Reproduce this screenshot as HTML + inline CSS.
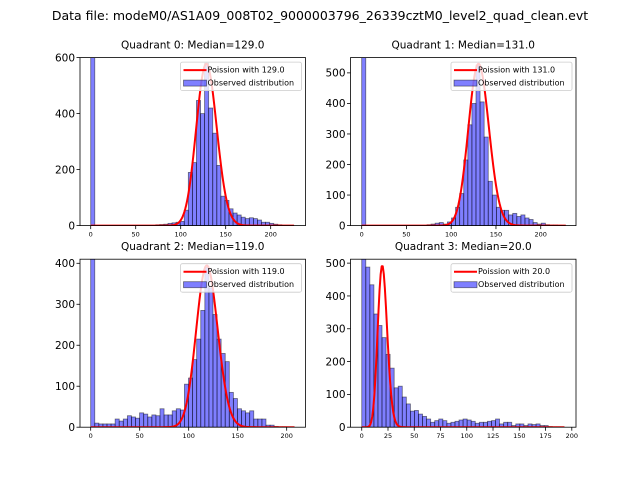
<!DOCTYPE html>
<html><head><meta charset="utf-8"><style>
html,body{margin:0;padding:0;background:#fff;}
svg{display:block;font-family:"DejaVu Sans","Liberation Sans",sans-serif;}
</style></head><body>
<svg id="fig" width="640" height="480" viewBox="0 0 640 480" xmlns="http://www.w3.org/2000/svg">
<rect width="640" height="480" fill="#fff"/>
<text x="320" y="20" font-size="12.5" text-anchor="middle">Data file: modeM0/AS1A09_008T02_9000003796_26339cztM0_level2_quad_clean.evt</text>
</svg>
<script>
const q0Counts=[620,0,0,0,0,0,0,0,0,0,0,0,0,0,0,0,3,4,5,8,10,12,15,55,190,225,447,400,580,420,330,215,105,90,60,45,38,30,25,28,25,20,12,12,8,5,3,1,1,0];
const q1Counts=[600,0,0,0,0,0,0,0,0,0,0,0,0,0,0,0,3,5,8,10,5,12,25,60,105,215,330,400,525,405,290,145,100,60,50,50,35,40,30,35,25,20,10,5,8,3,2,2,1,0];
const q2Counts=[450,10,8,8,8,8,20,15,20,28,25,22,35,32,25,30,28,45,30,30,40,45,42,105,120,165,215,285,390,340,275,215,180,160,85,70,45,40,35,40,20,20,20,5,5,2,1,1,0,0];
const q3Counts=[540,488,434,345,310,273,222,180,120,125,92,71,49,51,40,33,25,15,20,25,20,12,15,18,22,25,22,18,12,15,15,18,20,25,10,15,15,5,10,10,5,10,8,10,5,5,2,1,1,0];
const lambdas=[129,131,119,20];
const medianLabels=["129.0","131.0","119.0","20.0"];
const amplitudes=[16460,15200,10800,5520];
const binWidths=[4.52,4.56,4.16,3.86];
const xTicks01=[0,50,100,150,200];
const xTicks3=[0,25,50,75,100,125,150,175,200];
const yTicks0=[0,200,400,600];
const yTicks1=[0,100,200,300,400,500];
const yTicks2=[0,100,200,300,400];
const yTicks3=[0,100,200,300,400,500];

const NS="http://www.w3.org/2000/svg";
const fig=document.getElementById('fig');
function mk(tag,attrs,parent){const e=document.createElementNS(NS,tag);for(const k in attrs)e.setAttribute(k,attrs[k]);(parent||fig).appendChild(e);return e;}
function lgamma(z){const g=7,c=[0.99999999999980993,676.5203681218851,-1259.1392167224028,771.32342877765313,-176.61502916214059,12.507343278686905,-0.13857109526572012,9.9843695780195716e-6,1.5056327351493116e-7];z-=1;let x=c[0];for(let i=1;i<g+2;i++)x+=c[i]/(z+i);const t=z+g+0.5;return 0.5*Math.log(2*Math.PI)+(z+0.5)*Math.log(t)-t+Math.log(x);}
function pmf(k,l){return Math.exp(k*Math.log(l)-l-lgamma(k+1));}

const panels=[
 {counts:q0Counts,l:0,x0:80,y0:57.6,xmin:-11.9,xmax:238.7,ymax:600,xt:xTicks01,yt:yTicks0},
 {counts:q1Counts,l:1,x0:350.5,y0:57.6,xmin:-12.5,xmax:239.4,ymax:550,xt:xTicks01,yt:yTicks1},
 {counts:q2Counts,l:2,x0:80,y0:259.2,xmin:-10.9,xmax:219.2,ymax:410,xt:xTicks01,yt:yTicks2},
 {counts:q3Counts,l:3,x0:350.5,y0:259.2,xmin:-10.7,xmax:204,ymax:512,xt:xTicks3,yt:yTicks3}];
const W=225.5,H=168;
panels.forEach((p,pi)=>{
 const g=mk('g',{});
 
 
 const sx=v=>p.x0+(v-p.xmin)/(p.xmax-p.xmin)*W;
 const sy=v=>p.y0+H-v/p.ymax*H;
 const cp=mk('clipPath',{id:'c'+pi},g);mk('rect',{x:p.x0,y:p.y0,width:W,height:H},cp);
 const bars=mk('g',{'clip-path':'url(#c'+pi+')'},g);
 const bw=binWidths[p.l];
 p.counts.forEach((c,i)=>{
  if(c<=0)return;
  const r=mk('rect',{x:sx(i*bw),y:sy(c),width:sx((i+1)*bw)-sx(i*bw),height:sy(0)-sy(c),fill:'rgba(0,0,255,0.5)',stroke:'rgba(0,0,0,0.5)','stroke-width':0.8},bars);
  
  
 });
 const lam=lambdas[p.l],A=amplitudes[p.l];
 const kmax=Math.round(p.counts.length*bw);
 let d='';
 for(let k=0;k<=kmax;k++){d+=(k?'L':'M')+sx(k).toFixed(2)+','+sy(A*pmf(k,lam)).toFixed(2);}
 const pl=mk('path',{d:d,fill:'none',stroke:'red','stroke-width':2,'stroke-linejoin':'round'},bars);
 
 
 const fr=mk('rect',{x:p.x0,y:p.y0,width:W,height:H,fill:'none',stroke:'#000','stroke-width':0.8},g);
 
 
 p.xt.forEach(t=>{const x=sx(t);mk('line',{x1:x,x2:x,y1:p.y0+H,y2:p.y0+H+3.5,stroke:'#000','stroke-width':0.8},g);
  const tx=mk('text',{x:x,y:p.y0+H+11,'font-size':6.5,'text-anchor':'middle'},g);tx.textContent=t;
  
  });
 p.yt.forEach(t=>{const y=sy(t);mk('line',{x1:p.x0-3.5,x2:p.x0,y1:y,y2:y,stroke:'#000','stroke-width':0.8},g);
  const tx=mk('text',{x:p.x0-5,y:y+3.8,'font-size':10.5,'text-anchor':'end'},g);tx.textContent=t;
  
  });
 const ti=mk('text',{x:p.x0+W/2,y:p.y0-9,'font-size':10.5,'text-anchor':'middle'},g);
 ti.textContent='Quadrant '+pi+': Median='+medianLabels[pi];
 
 
 const lg=mk('g',{},g);
 
 
 const lx=p.x0+W-125,ly=p.y0+4.5;
 mk('rect',{x:lx,y:ly,width:121,height:28.5,rx:2,fill:'rgba(255,255,255,0.8)',stroke:'#ccc','stroke-width':0.8},lg);
 mk('line',{x1:lx+3,x2:lx+26,y1:ly+8,y2:ly+8,stroke:'red','stroke-width':2},lg);
 mk('rect',{x:lx+3,y:ly+18,width:23,height:6,fill:'rgba(0,0,255,0.5)',stroke:'rgba(0,0,0,0.5)','stroke-width':0.8},lg);
 const t1=mk('text',{x:lx+27,y:ly+10.5,'font-size':8,textLength:0},lg);t1.removeAttribute('textLength');t1.textContent='Poission with '+medianLabels[pi];
 
 
 const t2=mk('text',{x:lx+27,y:ly+23.5,'font-size':8},lg);t2.textContent='Observed distribution';
 
 
});
</script>
</body></html>
